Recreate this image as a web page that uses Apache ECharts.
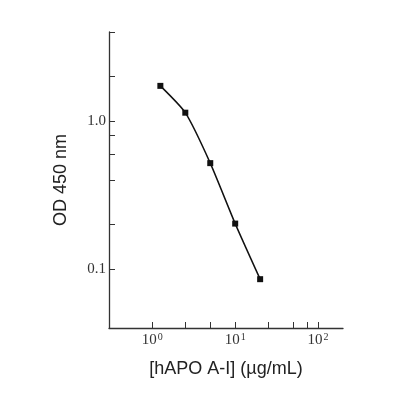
<!DOCTYPE html>
<html><head><meta charset="utf-8">
<script src="https://cdn.jsdelivr.net/npm/echarts@6/dist/echarts.min.js"></script>
<style>html,body{margin:0;padding:0;background:#fff}#c{width:396px;height:400px}</style>
</head><body><div id="c"></div>
<script>
const concentrations = [1.25, 2.5, 5, 10, 20];
const odValues = [1.73, 1.14, 0.52, 0.203, 0.0855];
const xTickValues = [1, 2.5, 5, 10, 25, 50, 75, 100];
const xLabelValues = [1, 10, 100];
const yTickValues = [0.1, 0.2, 0.4, 0.6, 0.8, 1, 2, 4];
const yLabelValues = [0.1, 1];
const xName = '[hAPO A-I] (µg/mL)';
const yName = 'OD 450 nm';

const chart = echarts.init(document.getElementById('c'));
const axisColor = '#333';
chart.setOption({
  animation: false,
  grid: { left: 109, top: 32, right: 53, bottom: 72 },
  xAxis: {
    type: 'log', logBase: 10, min: 0.3, max: 200,
    name: xName, nameLocation: 'middle', nameGap: 32,
    nameTextStyle: { fontFamily: 'Liberation Sans', fontSize: 18, color: '#222' },
    axisLine: { lineStyle: { color: axisColor, width: 1.3 } },
    axisTick: { inside: true, length: 6, customValues: xTickValues, lineStyle: { color: axisColor } },
    axisLabel: {
      customValues: xLabelValues, margin: 4,
      fontFamily: 'Liberation Serif', fontSize: 15, color: '#333',
      formatter: v => '10{sup|' + Math.round(Math.log10(v)) + '}',
      rich: { sup: { fontFamily: 'Liberation Serif', fontSize: 10, verticalAlign: 'top', padding: [0,0,7,1], color: '#333' } }
    },
    splitLine: { show: false }
  },
  yAxis: {
    type: 'log', logBase: 10, min: 0.04, max: 4,
    name: yName, nameLocation: 'middle', nameGap: 39,
    nameTextStyle: { fontFamily: 'Liberation Sans', fontSize: 18, color: '#222' },
    axisLine: { lineStyle: { color: axisColor, width: 1.3 } },
    axisTick: { inside: true, length: 6, customValues: yTickValues, lineStyle: { color: axisColor } },
    axisLabel: {
      customValues: yLabelValues, margin: 3,
      fontFamily: 'Liberation Serif', fontSize: 15, color: '#333',
      formatter: v => v.toFixed(1)
    },
    splitLine: { show: false }
  },
  series: [{
    type: 'line',
    data: concentrations.map((c, i) => [c, odValues[i]]),
    smooth: 0.2,
    symbol: 'rect', symbolSize: 6,
    lineStyle: { color: '#111', width: 1.5 },
    itemStyle: { color: '#111' }
  }]
});
</script></body></html>
